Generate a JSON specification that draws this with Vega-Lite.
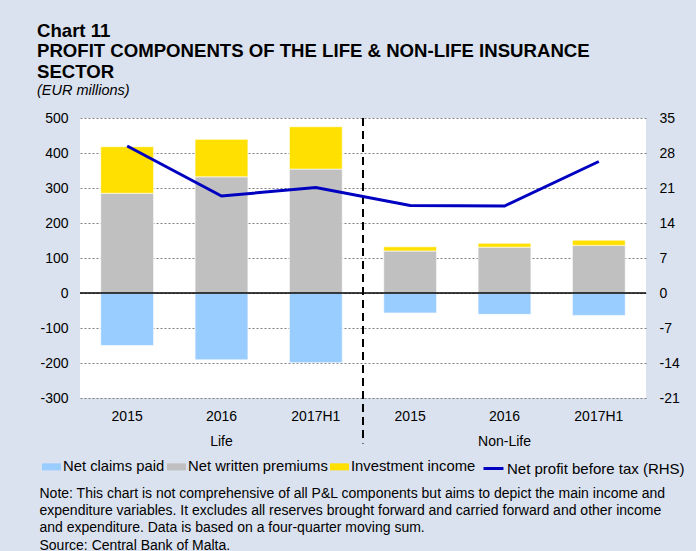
{
  "$schema": "https://vega.github.io/schema/vega-lite/v6.json",
  "width": 566,
  "height": 280,
  "autosize": {"type": "none"},
  "padding": {"left": 80, "top": 118, "right": 50, "bottom": 153},
  "background": "#DBE2EF",
  "config": {
    "font": "Liberation Sans",
    "view": {"fill": "white", "stroke": null},
    "axisY": {"labelOverlap": false}
  },
  "title": {
    "text": ["Chart 11", "PROFIT COMPONENTS OF THE LIFE & NON-LIFE INSURANCE", "SECTOR"],
    "subtitle": "(EUR millions)",
    "anchor": "start",
    "frame": "group",
    "dx": -43,
    "fontSize": 18.6,
    "fontWeight": "bold",
    "font": "Liberation Sans",
    "color": "black",
    "lineHeight": 20.5,
    "subtitleFont": "Liberation Sans",
    "subtitleFontStyle": "italic",
    "subtitleFontSize": 14.5,
    "subtitleColor": "black",
    "subtitlePadding": 2,
    "offset": 14
  },
  "datasets": {
    "bars": [
      {"cat": "Life|2015", "series": "Net claims paid", "value": -150, "ord": 0},
      {"cat": "Life|2015", "series": "Net written premiums", "value": 285, "ord": 1},
      {"cat": "Life|2015", "series": "Investment income", "value": 133, "ord": 2},
      {"cat": "Life|2016", "series": "Net claims paid", "value": -191, "ord": 0},
      {"cat": "Life|2016", "series": "Net written premiums", "value": 332, "ord": 1},
      {"cat": "Life|2016", "series": "Investment income", "value": 107, "ord": 2},
      {"cat": "Life|2017H1", "series": "Net claims paid", "value": -199, "ord": 0},
      {"cat": "Life|2017H1", "series": "Net written premiums", "value": 354, "ord": 1},
      {"cat": "Life|2017H1", "series": "Investment income", "value": 121, "ord": 2},
      {"cat": "Non-Life|2015", "series": "Net claims paid", "value": -57, "ord": 0},
      {"cat": "Non-Life|2015", "series": "Net written premiums", "value": 120, "ord": 1},
      {"cat": "Non-Life|2015", "series": "Investment income", "value": 12, "ord": 2},
      {"cat": "Non-Life|2016", "series": "Net claims paid", "value": -61, "ord": 0},
      {"cat": "Non-Life|2016", "series": "Net written premiums", "value": 131, "ord": 1},
      {"cat": "Non-Life|2016", "series": "Investment income", "value": 11, "ord": 2},
      {"cat": "Non-Life|2017H1", "series": "Net claims paid", "value": -64, "ord": 0},
      {"cat": "Non-Life|2017H1", "series": "Net written premiums", "value": 136, "ord": 1},
      {"cat": "Non-Life|2017H1", "series": "Investment income", "value": 15, "ord": 2}
    ],
    "profit": [
      {"cat": "Life|2015", "series": "Net profit before tax (RHS)", "profit": 29.4},
      {"cat": "Life|2016", "series": "Net profit before tax (RHS)", "profit": 19.4},
      {"cat": "Life|2017H1", "series": "Net profit before tax (RHS)", "profit": 21.1},
      {"cat": "Non-Life|2015", "series": "Net profit before tax (RHS)", "profit": 17.5},
      {"cat": "Non-Life|2016", "series": "Net profit before tax (RHS)", "profit": 17.4},
      {"cat": "Non-Life|2017H1", "series": "Net profit before tax (RHS)", "profit": 26.3}
    ]
  },
  "layer": [
    {
      "layer": [
        {
          "data": {"name": "bars"},
          "mark": {"type": "bar", "width": {"band": 0.56}, "stroke": "white", "strokeWidth": 0.6},
          "encoding": {
            "x": {
              "field": "cat",
              "type": "nominal",
              "sort": null,
              "scale": {
                "domain": ["Life|2015", "Life|2016", "Life|2017H1", "Non-Life|2015", "Non-Life|2016", "Non-Life|2017H1"],
                "paddingInner": 0,
                "paddingOuter": 0
              },
              "axis": {
                "title": [
                  "Note: This chart is not comprehensive of all P&L components but aims to depict the main income and",
                  "expenditure variables. It excludes all reserves brought forward and carried forward and other income",
                  "and expenditure. Data is based on a four-quarter moving sum.",
                  "Source: Central Bank of Malta."
                ],
                "titleX": -41,
                "titleY": 99,
                "titleAlign": "left",
                "titleAnchor": "start",
                "titleBaseline": "alphabetic",
                "titleFontSize": 14,
                "titleFontWeight": "normal",
                "titleLineHeight": 17.4,
                "titleColor": "black",
                "labelExpr": "datum.value == 'Life|2016' ? ['2016', 'Life'] : datum.value == 'Non-Life|2016' ? ['2016', 'Non-Life'] : split(datum.value, '|')[1]",
                "labelAngle": 0,
                "labelFontSize": 14,
                "labelLineHeight": 25,
                "labelPadding": 11,
                "labelColor": "black",
                "ticks": false,
                "domain": false,
                "grid": false
              }
            },
            "y": {
              "field": "value",
              "type": "quantitative",
              "stack": "zero",
              "scale": {"domain": [-300, 500], "nice": false},
              "axis": {
                "title": null,
                "values": [-300, -200, -100, 0, 100, 200, 300, 400, 500],
                "labelExpr": "toString(datum.value)",
                "labelOverlap": false,
                "grid": true,
                "gridColor": "#7f7f7f",
                "gridDash": [2, 2],
                "gridWidth": 1,
                "domain": false,
                "ticks": false,
                "labelPadding": 12,
                "labelFontSize": 14,
                "labelColor": "black"
              }
            },
            "color": {
              "field": "series",
              "type": "nominal",
              "scale": {
                "domain": ["Net claims paid", "Net written premiums", "Investment income"],
                "range": ["#99CCFF", "#C0C0C0", "#FFE000"]
              },
              "legend": {
                "orient": "none",
                "legendX": -38,
                "legendY": 339,
                "direction": "horizontal",
                "columns": 3,
                "title": null,
                "symbolType": "M-1,-0.37H1V0.37H-1Z",
                "symbolSize": 361,
                "symbolStrokeWidth": 0,
                "labelFontSize": 14.8,
                "labelOffset": 2,
                "labelColor": "black",
                "labelLimit": 0,
                "columnPadding": 2,
                "padding": 0
              }
            },
            "order": {"field": "ord", "type": "quantitative"}
          }
        },
        {
          "data": {"values": [{}]},
          "mark": {"type": "rule", "color": "black", "strokeWidth": 1.5},
          "encoding": {
            "y": {
              "datum": 0,
              "type": "quantitative",
              "scale": {"domain": [-300, 500], "nice": false},
              "axis": {
                "title": null,
                "values": [-300, -200, -100, 0, 100, 200, 300, 400, 500],
                "labelExpr": "toString(datum.value)",
                "labelOverlap": false,
                "grid": true,
                "gridColor": "#7f7f7f",
                "gridDash": [2, 2],
                "gridWidth": 1,
                "domain": false,
                "ticks": false,
                "labelPadding": 12,
                "labelFontSize": 14,
                "labelColor": "black"
              }
            }
          }
        },
        {
          "data": {"values": [{}]},
          "mark": {"type": "rule", "color": "black", "strokeWidth": 2, "strokeDash": [8, 5], "clip": false},
          "encoding": {
            "x": {"datum": "Non-Life|2015", "type": "nominal", "bandPosition": 0},
            "y": {
              "datum": 500,
              "type": "quantitative",
              "scale": {"domain": [-300, 500], "nice": false},
              "axis": {
                "title": null,
                "values": [-300, -200, -100, 0, 100, 200, 300, 400, 500],
                "labelExpr": "toString(datum.value)",
                "labelOverlap": false,
                "grid": true,
                "gridColor": "#7f7f7f",
                "gridDash": [2, 2],
                "gridWidth": 1,
                "domain": false,
                "ticks": false,
                "labelPadding": 12,
                "labelFontSize": 14,
                "labelColor": "black"
              }
            },
            "y2": {"datum": -430}
          }
        }
      ]
    },
    {
      "data": {"name": "profit"},
      "mark": {"type": "line", "strokeWidth": 3},
      "encoding": {
        "x": {"field": "cat", "type": "nominal", "sort": null},
        "y": {
          "field": "profit",
          "type": "quantitative",
          "scale": {"domain": [-21, 35], "nice": false},
          "axis": {
            "orient": "right",
            "title": null,
            "values": [-21, -14, -7, 0, 7, 14, 21, 28, 35],
            "labelExpr": "toString(datum.value)",
            "labelOverlap": false,
            "grid": false,
            "domain": false,
            "ticks": false,
            "labelPadding": 13,
            "labelFontSize": 14,
            "labelColor": "black"
          }
        },
        "stroke": {
          "field": "series",
          "type": "nominal",
          "scale": {"range": ["#0000C0"]},
          "legend": {
            "orient": "none",
            "legendX": 402,
            "legendY": 339,
            "title": null,
            "symbolType": "stroke",
            "symbolSize": 400,
            "symbolStrokeWidth": 3,
            "labelFontSize": 15,
            "labelOffset": 2,
            "labelColor": "black",
            "labelLimit": 0,
            "padding": 0
          }
        }
      }
    }
  ],
  "resolve": {"scale": {"y": "independent"}}
}
